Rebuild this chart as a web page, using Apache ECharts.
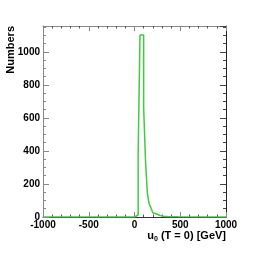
<!DOCTYPE html>
<html>
<head>
<meta charset="utf-8">
<script src="https://cdn.jsdelivr.net/npm/echarts@6/dist/echarts.min.js"></script>
<style>
html,body{margin:0;padding:0;background:#fff;}
#chart{width:270px;height:259px;}
</style>
</head>
<body>
<div id="chart"></div>
<script>
// ---- data ----
const xRange = [-1000, 1000];
const yMax = 1157;
const xTickStep = 500;
const yTickStep = 200;
const binWidth = 20;
const binLowEdges = [0, 20, 40, 60, 80, 100, 120, 140, 160, 180, 200, 220, 240, 260, 280, 300, 320, 340, 360, 380, 400, 420, 440, 460];
const binCounts   = [3, 12, 382, 1102, 1102, 665, 345, 147, 80, 55, 26, 18, 12, 9, 7, 5, 4, 3, 2, 2, 1, 2, 1, 1];
const xTitle = 'u{sub|0} (T = 0) [GeV]';
const yTitle = 'Numbers';

// ---- build step outline of the histogram ----
const outline = [[xRange[0], 0], [binLowEdges[0], 0]];
for (let i = 0; i < binLowEdges.length; i++) {
  outline.push([binLowEdges[i], binCounts[i]]);
  outline.push([binLowEdges[i] + binWidth, binCounts[i]]);
}
outline.push([binLowEdges[binLowEdges.length - 1] + binWidth, 0]);
outline.push([xRange[1], 0]);

const font = '"Liberation Sans", Arial, Helvetica, sans-serif';
const plain = v => String(v);
const labelStyle = {color: '#000', fontFamily: font, fontWeight: 'bold', fontSize: 10, formatter: plain};

const chart = echarts.init(document.getElementById('chart'), null, {renderer: 'canvas'});
chart.setOption({
  animation: false,
  backgroundColor: '#fff',
  grid: {left: 43, right: 44, top: 26, bottom: 42},
  xAxis: [{
    type: 'value', min: xRange[0], max: xRange[1], interval: xTickStep, position: 'bottom',
    axisLine: {show: true, onZero: false, lineStyle: {color: '#333', width: 1}},
    axisTick: {show: true, inside: true, length: 5, lineStyle: {color: '#888'}},
    minorTick: {show: true, splitNumber: 5, length: 2.5, lineStyle: {color: '#555'}},
    axisLabel: Object.assign({margin: 3}, labelStyle),
    splitLine: {show: false}
  }, {
    type: 'value', min: xRange[0], max: xRange[1], interval: xTickStep, position: 'top',
    axisLine: {show: true, onZero: false, lineStyle: {color: '#888', width: 1}},
    axisTick: {show: true, inside: true, length: 5, lineStyle: {color: '#888'}},
    minorTick: {show: true, splitNumber: 5, length: 2.5, lineStyle: {color: '#555'}},
    axisLabel: {show: false},
    splitLine: {show: false}
  }],
  yAxis: [{
    type: 'value', min: 0, max: yMax, interval: yTickStep, position: 'left',
    axisLine: {show: true, onZero: false, lineStyle: {color: '#888', width: 1}},
    axisTick: {show: true, inside: true, length: 6, lineStyle: {color: '#888'}},
    minorTick: {show: true, splitNumber: 4, length: 3, lineStyle: {color: '#888'}},
    axisLabel: Object.assign({margin: 3, showMaxLabel: false}, labelStyle),
    splitLine: {show: false}
  }, {
    type: 'value', min: 0, max: yMax, interval: yTickStep, position: 'right',
    axisLine: {show: true, onZero: false, lineStyle: {color: '#222', width: 1}},
    axisTick: {show: true, inside: true, length: 6, lineStyle: {color: '#444'}},
    minorTick: {show: true, splitNumber: 4, length: 3, lineStyle: {color: '#444'}},
    axisLabel: {show: false},
    splitLine: {show: false}
  }],
  graphic: [{
    type: 'text', x: 11, y: 26, rotation: Math.PI / 2,
    style: {text: yTitle, font: 'bold 11px ' + font, fill: '#000', align: 'right', verticalAlign: 'middle'}
  }, {
    type: 'text', x: 226, y: 236,
    style: {
      text: xTitle, font: 'bold 11px ' + font, fill: '#000', align: 'right', verticalAlign: 'middle',
      rich: {sub: {font: 'bold 7px ' + font, fill: '#000', verticalAlign: 'bottom', padding: [6, 0, 0, 0]}}
    }
  }],
  series: [{
    type: 'line', xAxisIndex: 0, yAxisIndex: 0,
    data: outline, symbol: 'none', smooth: false,
    lineStyle: {color: '#3fcc3f', width: 1.5},
    z: 5
  }]
});
</script>
</body>
</html>
